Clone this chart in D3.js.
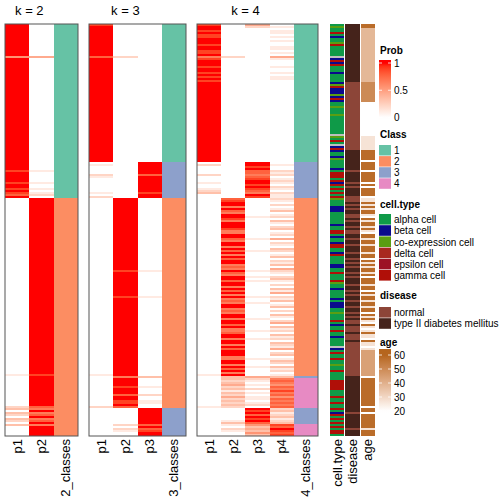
<!DOCTYPE html>
<html><head><meta charset="utf-8">
<script src="https://cdn.jsdelivr.net/npm/d3@7"></script>
<style>body{margin:0;background:#fff}svg{display:block}text{font-family:"Liberation Sans",Arial,Helvetica,sans-serif;fill:#000}</style>
</head><body><svg id="c" width="504" height="504"></svg>
<script>
// ---- data: one char per sample row (206 rows), digits = prob*9 ----
const k2p1 = ["9999999999","9999995999","9999999999","9999999999","9999999999","9999999999","9999999999","9998999998","9989879000","0000000000","0000000000","0000000000","0000000000","0000000000","0000000000","0000000000","0000000000","0000010000","0000000000","0230320320","300000"];
const k2p2 = ["0000000000","0000004000","0000000000","0000000000","0000000000","0000000000","0000000000","0001000001","0010120999","9999999999","9999999999","9999999999","9999999999","9999999999","9999999999","9999999999","9999999999","9999989999","9999999999","9769679679","699999"];
const k2cls = ["1111111111","1111111111","1111111111","1111111111","1111111111","1111111111","1111111111","1111111111","1111111222","2222222222","2222222222","2222222222","2222222222","2222222222","2222222222","2222222222","2222222222","2222222222","2222222222","2222222222","222222"];

const k3p1 = ["8999999999","9999997999","9999999999","9999999999","9999999999","9999999999","9999999990","1000021000","0000102000","0000000000","0000000000","0000000000","0000000000","0000000000","0000000000","0000000000","0000000000","0000010000","0000000000","0200000000","000000"];
const k3p2 = ["0000000000","0000002000","0000000000","0000000000","0000000000","0000000000","0000000000","0000000000","0000000999","9999999999","9999999999","9999999999","9998999999","9999998999","9999999999","9999999999","9999999999","9999996999","9899979988","9700000000","202100"];
const k3p3 = ["0000000000","0000000000","0000000000","0000000000","0000000000","0000000000","0000000009","9999979999","9999899000","0000000000","0000000000","0000000000","0001000000","0000001000","0000000000","0000000000","0000000000","0000003000","0100020011","0099999999","797899"];
const k3cls = ["1111111111","1111111111","1111111111","1111111111","1111111111","1111111111","1111111113","3333333333","3333333222","2222222222","2222222222","2222222222","2222222222","2222222222","2222222222","2222222222","2222222222","2222222222","2222222222","2233333333","333333"];

const k4p1 = ["8998988999","8998896899","9899898989","9999999999","9999999999","9999999999","9999999990","2000020001","0012300000","0000000000","0000000000","0000000000","0000000000","0000000000","0000000000","0000000000","0000000000","0000010000","0000000000","0100000000","000000"];
const k4p2 = ["0000000000","0000002000","0000000000","0000000000","0000000000","0000000000","0000000000","0000000000","0000000789","9697699869","9986699769","9697969799","6769769979","9697969676","9967699699","7966799699","6979996699","6979693323","4231324232","3200000013","102100"];
const k4p3 = ["4200000000","0000000000","0000000000","0000000000","0000000000","0000000000","0000000009","9897767899","8987698000","0000001000","0000000100","0001000000","0001001010","0000001001","0000000100","0001000100","0000000100","0100004210","1020101101","2098979897","534353"];
const k4p4 = ["0101101010","0110104100","0100101100","0000000000","0000000000","0000000000","0000000000","1002120121","0210211210","2013012031","0230120402","1032013021","3042102310","2031402130","1302031024","0312031203","2140230132","0312013676","5768675767","6723123123","879878"];
const k4cls = ["1111111111","1111111111","1111111111","1111111111","1111111111","1111111111","1111111113","3333333333","3333333222","2222222222","2222222222","2222222222","2222222222","2222222222","2222222222","2222222222","2222222222","2222223444","4444444444","4433333333","444444"];

// cell type: a alpha, b beta, c co-expression, d delta, e epsilon, g gamma, x NA
const cellType = ["acaagabaac","gaaaaaxbgb","gaaabaaaab","cgbbbcbgba","acaaacaaaa","aaaaaxcaga","xbgbaabcaa","aabagggagb","gagagagcaa","abbbaaaaaa","baaggabaab","ggaabgaaaa","bbaagaaagc","aabaaaabab","bbaacaaaga","baagaabaaa","axbagaagaa","caagaaaagg","gggaaagaag","aagabgagag","agagga"];
// disease: n normal, t type II diabetes mellitus
const disease = ["tttttttttt","tttttttttt","tttttttttn","nnnnnnnnnn","nnnnnnnnnn","nnnnnnnnnn","nnnttttttt","tttntttttn","tnttttnnnt","ntnttnntnt","tntnnttntt","ntttnttntn","tnttntnttt","nttntnttnt","tnttntntnn","tnnntnnntn","nnnnnnnnnn","nnnnnntttt","tttttttttt","ttttnttttt","ttnttt"];
// age codes
const ageCode = ["DDPPPPPPPP","PPPPPPPPPP","PPPPPPPPPM","MMMMMMMMMW","WWWWWWWWWW","WWWWWWVVVV","VVVDDDDDWD","DDDWDDDDDW","DWDDDDWVVD","VDVDDVWDVD","DVDVWDDVDD","VDDDVDDWDV","DVDDVDWDDD","VDDWDVDDVD","DVDDWDVDVW","DVWVDVVWDV","VWVLLLLLLL","LLLLLLWDDD","DDDDDDDDDD","DWDDWDDDDD","DDVDDD"];
const ageOf = {W:20, V:27, P:38, L:44, M:50, D:58};

const classKeys = ["1","2","3","4"];
const classColors = ["#66C2A5","#FC8D62","#8DA0CB","#E78AC3"];
const cellKeys = ["a","b","c","d","e","g","x"];
const cellLabels = ["alpha cell","beta cell","co-expression cell","delta cell","epsilon cell","gamma cell"];
const cellColors = ["#0F9A48","#0A0A8C","#5A9E12","#A8281F","#9C1225","#B00F08","#BEBEBE"];
const diseaseKeys = ["n","t"];
const diseaseLabels = ["normal","type II diabetes mellitus"];
const diseaseColors = ["#8C4538","#45231B"];
const probTicks = [1, 0.5, 0];
const ageTicks = [60, 50, 40, 30, 20];

// ---- helpers ----
const J = a => a.join("").split("");
const prob = a => J(a).map(ch => +ch / 9);

const N = J(k2cls).length;
const TOP = 24, BOTTOM = 436;
const svg = d3.select("#c");
const y = d3.scaleBand().domain(d3.range(N)).range([TOP, BOTTOM]);
const probColor = d3.scaleLinear().domain([0, 1]).range(["#FFFFFF", "#FF0000"]).interpolate(d3.interpolateLab);
const classColor = d3.scaleOrdinal().domain(classKeys).range(classColors);
const cellColor = d3.scaleOrdinal().domain(cellKeys).range(cellColors);
const disColor = d3.scaleOrdinal().domain(diseaseKeys).range(diseaseColors);
const ageColor = d3.scaleLinear().domain([20, 60]).range(["#FFFFFF", "#B5651D"]).interpolate(d3.interpolateLab).clamp(true);

const panels = [
  {title: "k = 2", range: [5, 78], probs: [["p1", k2p1], ["p2", k2p2]], cls: k2cls, clsLabel: "2_classes"},
  {title: "k = 3", range: [89, 186], probs: [["p1", k3p1], ["p2", k3p2], ["p3", k3p3]], cls: k3cls, clsLabel: "3_classes"},
  {title: "k = 4", range: [197, 318], probs: [["p1", k4p1], ["p2", k4p2], ["p3", k4p3], ["p4", k4p4]], cls: k4cls, clsLabel: "4_classes"}
];

panels.forEach(p => {
  const names = p.probs.map(d => d[0]).concat([p.clsLabel]);
  const x = d3.scaleBand().domain(names).range(p.range);
  const g = svg.append("g").attr("shape-rendering", "crispEdges");
  p.probs.forEach(([name, arr]) => {
    g.selectAll(null).data(prob(arr)).enter().append("rect")
      .attr("x", x(name)).attr("width", x.bandwidth())
      .attr("y", (d, i) => y(i)).attr("height", y.bandwidth())
      .attr("fill", d => probColor(d));
  });
  g.selectAll(null).data(J(p.cls)).enter().append("rect")
    .attr("x", x(p.clsLabel)).attr("width", x.bandwidth())
    .attr("y", (d, i) => y(i)).attr("height", y.bandwidth())
    .attr("fill", d => classColor(d));
  svg.append("rect").attr("x", p.range[0]).attr("y", TOP)
    .attr("width", p.range[1] - p.range[0]).attr("height", BOTTOM - TOP)
    .attr("fill", "none").attr("stroke", "#555").attr("stroke-width", 1);
  const lastProb = names[names.length - 2];
  svg.append("text").attr("x", (x(names[0]) + x(lastProb) + x.bandwidth()) / 2).attr("y", 15)
    .attr("text-anchor", "middle").attr("font-size", 13).text(p.title);
  names.forEach(n => {
    svg.append("text")
      .attr("transform", `translate(${x(n) + x.bandwidth() / 2},439) rotate(-90)`)
      .attr("text-anchor", "end").attr("dominant-baseline", "central")
      .attr("font-size", 13).text(n);
  });
});

// annotations
const annNames = ["cell.type", "disease", "age"];
const xa = d3.scaleBand().domain(annNames).range([330, 375]).paddingInner(0.07);
const annData = [
  ["cell.type", J(cellType), cellColor],
  ["disease", J(disease), disColor],
  ["age", J(ageCode).map(c => ageOf[c]), ageColor]
];
const ga = svg.append("g").attr("shape-rendering", "crispEdges");
annData.forEach(([name, arr, col]) => {
  ga.selectAll(null).data(arr).enter().append("rect")
    .attr("x", xa(name)).attr("width", xa.bandwidth())
    .attr("y", (d, i) => y(i)).attr("height", y.bandwidth())
    .attr("fill", d => col(d));
  svg.append("text")
    .attr("transform", `translate(${xa(name) + xa.bandwidth() / 2},439) rotate(-90)`)
    .attr("text-anchor", "end").attr("dominant-baseline", "central")
    .attr("font-size", 13).text(name);
});

// ---- legends ----
const LX = 379, LW = 12, TX = 394;
const defs = svg.append("defs");
function title(t, yb) {
  svg.append("text").attr("x", LX + 1).attr("y", yb).attr("font-size", 10).attr("font-weight", "bold").text(t);
}
function gradient(id, scale, ticks, yTop, yBot, y0, y1, fmt) {
  const ys = d3.scaleLinear().domain([ticks[0], ticks[ticks.length - 1]]).range([y0, y1]);
  const gr = defs.append("linearGradient").attr("id", id).attr("x1", 0).attr("x2", 0).attr("y1", 0).attr("y2", 1);
  d3.range(0, 1.0001, 0.05).forEach(t => {
    const yy = yTop + t * (yBot - yTop);
    gr.append("stop").attr("offset", t).attr("stop-color", scale(ys.invert(yy)));
  });
  svg.append("rect").attr("x", LX).attr("y", yTop).attr("width", LW).attr("height", yBot - yTop).attr("fill", `url(#${id})`);
  ticks.forEach(v => {
    const yy = ys(v);
    svg.append("line").attr("x1", LX).attr("x2", LX + 3).attr("y1", yy).attr("y2", yy).attr("stroke", "#fff").attr("stroke-width", 0.8);
    svg.append("line").attr("x1", LX + LW - 3).attr("x2", LX + LW).attr("y1", yy).attr("y2", yy).attr("stroke", "#fff").attr("stroke-width", 0.8);
    svg.append("text").attr("x", TX).attr("y", yy).attr("dominant-baseline", "central").attr("font-size", 10).text(fmt(v));
  });
}
function discrete(labels, colors, y0, h) {
  labels.forEach((l, i) => {
    svg.append("rect").attr("x", LX).attr("y", y0 + i * h).attr("width", LW).attr("height", h - 0.6).attr("fill", colors[i]);
    svg.append("text").attr("x", TX).attr("y", y0 + i * h + h / 2).attr("dominant-baseline", "central").attr("font-size", 10).text(l);
  });
}
title("Prob", 54);
gradient("gp", probColor.copy().clamp(true), probTicks, 60, 120, 63, 117.5, v => String(v));
title("Class", 138);
discrete(classKeys, classColors, 145, 11.1);
title("cell.type", 208);
discrete(cellLabels, cellColors.slice(0, 6), 214, 11.2);
title("disease", 299);
discrete(diseaseLabels, diseaseColors, 307, 11.2);
title("age", 346);
gradient("ga", ageColor, ageTicks, 349, 414, 355, 411, v => String(v));
</script>
</body></html>
